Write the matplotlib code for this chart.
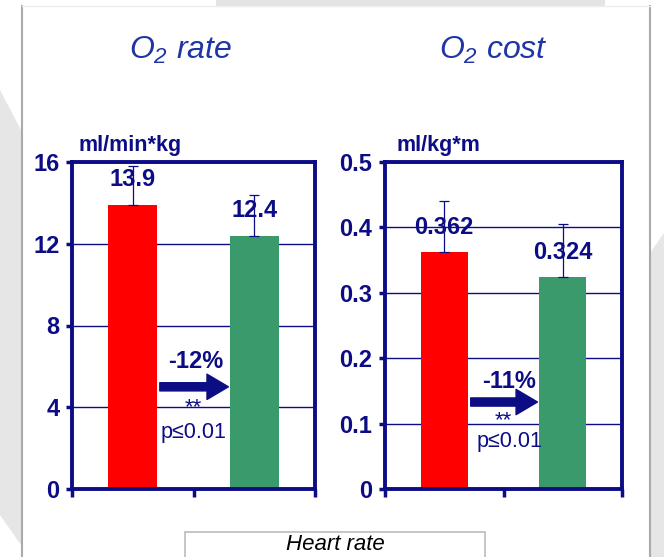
import matplotlib
matplotlib.use('Agg')
import matplotlib.pyplot as plt
from matplotlib.patches import Polygon, Rectangle

plt.rcParams['font.family'] = ['Liberation Sans', 'DejaVu Sans']
plt.rcParams['mathtext.fontset'] = 'custom'
plt.rcParams['mathtext.it'] = 'Liberation Sans:italic'
plt.rcParams['mathtext.rm'] = 'Liberation Sans:italic'
plt.rcParams['mathtext.default'] = 'it'

# data
groups = ['before', 'after']
rate_vals = [13.9, 12.4]
rate_err = [1.9, 2.0]
rate_labels = ['13.9', '12.4']
cost_vals = [0.362, 0.324]
cost_err = [0.079, 0.081]
cost_labels = ['0.362', '0.324']
rate_change = '-12%'
cost_change = '-11%'

navy = '#0c0c85'
title_blue = '#1f35a5'
bar_colors = ['#ff0000', '#3a9a6b']

W, H = 664, 557
fig = plt.figure(figsize=(W / 100, H / 100), dpi=100)
fig.patch.set_facecolor('white')

# slide background decoration
grey = '#e6e6e6'
fig.add_artist(Polygon([(0, 1 - 90 / H), (21 / W, 1 - 130 / H), (21 / W, 0), (0, 0)],
                       closed=True, transform=fig.transFigure, fc=grey, ec='none', zorder=0))
fig.add_artist(Polygon([(0, 1 - 515 / H), (21 / W, 1 - 545 / H), (21 / W, 0), (0, 0)],
                       closed=True, transform=fig.transFigure, fc='white', ec='none', zorder=0.5))
fig.add_artist(Polygon([(650 / W, 1 - 253 / H), (1, 1 - 233 / H), (1, 0), (650 / W, 0)],
                       closed=True, transform=fig.transFigure, fc=grey, ec='none', zorder=0))
fig.add_artist(Rectangle((216 / W, 1 - 6 / H), (605 - 216) / W, 6 / H,
                         transform=fig.transFigure, fc='#e4e4e4', ec='none', zorder=0))
# card edges
fig.add_artist(plt.Line2D([21.5 / W, 21.5 / W], [0, 1 - 6 / H], transform=fig.transFigure,
                          color='#aaaaaa', lw=1.5))
fig.add_artist(plt.Line2D([649.5 / W, 649.5 / W], [0, 1 - 6 / H], transform=fig.transFigure,
                          color='#aaaaaa', lw=1.5))
fig.add_artist(plt.Line2D([21.5 / W, 649.5 / W], [1 - 6 / H, 1 - 6 / H], transform=fig.transFigure,
                          color='#eeeeee', lw=1))

# titles
fig.text(181 / W, 1 - 50 / H, r'$O_2\ rate$', ha='center', va='center',
         fontsize=23, color=title_blue)
fig.text(493 / W, 1 - 50 / H, r'$O_2\ cost$', ha='center', va='center',
         fontsize=23, color=title_blue)

ax1 = fig.add_axes([72 / W, 1 - 489 / H, 243 / W, 327 / H])
ax2 = fig.add_axes([385 / W, 1 - 489 / H, 237 / W, 327 / H])

panels = [
    (ax1, rate_vals, rate_err, rate_labels, rate_change, 16, [0, 4, 8, 12, 16],
     ['0', '4', '8', '12', '16'], 'ml/min*kg', 0.237, 5.0, (0.52, 6.25), 4.0, 2.75, 0.50),
    (ax2, cost_vals, cost_err, cost_labels, cost_change, 0.5, [0, 0.1, 0.2, 0.3, 0.4, 0.5],
     ['0', '0.1', '0.2', '0.3', '0.4', '0.5'], 'ml/kg*m', 0.226, 0.133, (0.55, 0.164), 0.104, 0.072, 0.55),
]

for ax, vals, err, labels, change, top, ticks, ticklabels, unit, unit_x, arr_y, chg_xy, star_y, p_y, p_x in panels:
    x = [0, 1]
    ax.bar(x, vals, width=0.4, color=bar_colors, zorder=2)
    ax.errorbar(x, vals, yerr=[[0, 0], err], fmt='none', ecolor=navy, elinewidth=0.9,
                capsize=3.5, capthick=0.9, zorder=3)
    for xi, v, lab in zip(x, vals, labels):
        ax.annotate(lab, (xi, v), xytext=(0, 18), textcoords='offset points',
                    ha='center', va='center', fontsize=17, fontweight='bold', color=navy, zorder=4)
    ax.set_xlim(-0.5, 1.5)
    ax.set_ylim(0, top)
    ax.set_yticks(ticks)
    ax.set_yticklabels(ticklabels)
    ax.set_xticks([-0.5, 0.5, 1.5])
    ax.set_xticklabels([])
    ax.yaxis.grid(True, color=navy, lw=1.0)
    ax.set_axisbelow(True)
    for s in ax.spines.values():
        s.set_color(navy)
        s.set_linewidth(2.8)
    ax.tick_params(axis='y', direction='out', length=4, width=2.5, color=navy,
                   labelcolor=navy, labelsize=17, pad=5)
    ax.tick_params(axis='x', direction='out', length=6, width=2.5, color=navy)
    for t in ax.get_yticklabels():
        t.set_fontweight('bold')
    ax.text(unit_x, 1.05, unit, transform=ax.transAxes, ha='center', va='center',
            fontsize=15.5, fontweight='bold', color=navy)
    ax.annotate('', xy=(0.81, arr_y), xytext=(0.2, arr_y),
                arrowprops=dict(arrowstyle='simple,head_width=1.3,head_length=1.1,tail_width=0.42',
                                fc=navy, ec=navy, mutation_scale=14), zorder=5)
    ax.text(chg_xy[0], chg_xy[1], change, ha='center', va='center', fontsize=17,
            fontweight='bold', color=navy, zorder=5)
    ax.text(0.5, star_y, '**', ha='center', va='center', fontsize=16, color=navy, zorder=5)
    ax.text(p_x, p_y, 'p\u22640.01', ha='center', va='center', fontsize=15.5, color=navy, zorder=5)

# bottom box from the next slide element
fig.add_artist(Rectangle((185 / W, -0.02), 300 / W, (557 - 532) / H + 0.02,
                         transform=fig.transFigure, fc='white', ec='#bbbbbb', lw=1.2))
fig.text(335 / W, 1 - 555 / H, 'Heart rate', ha='center', va='bottom', fontsize=16,
         style='italic', color='black')

fig.savefig('out.png', dpi=100, facecolor=fig.get_facecolor())
